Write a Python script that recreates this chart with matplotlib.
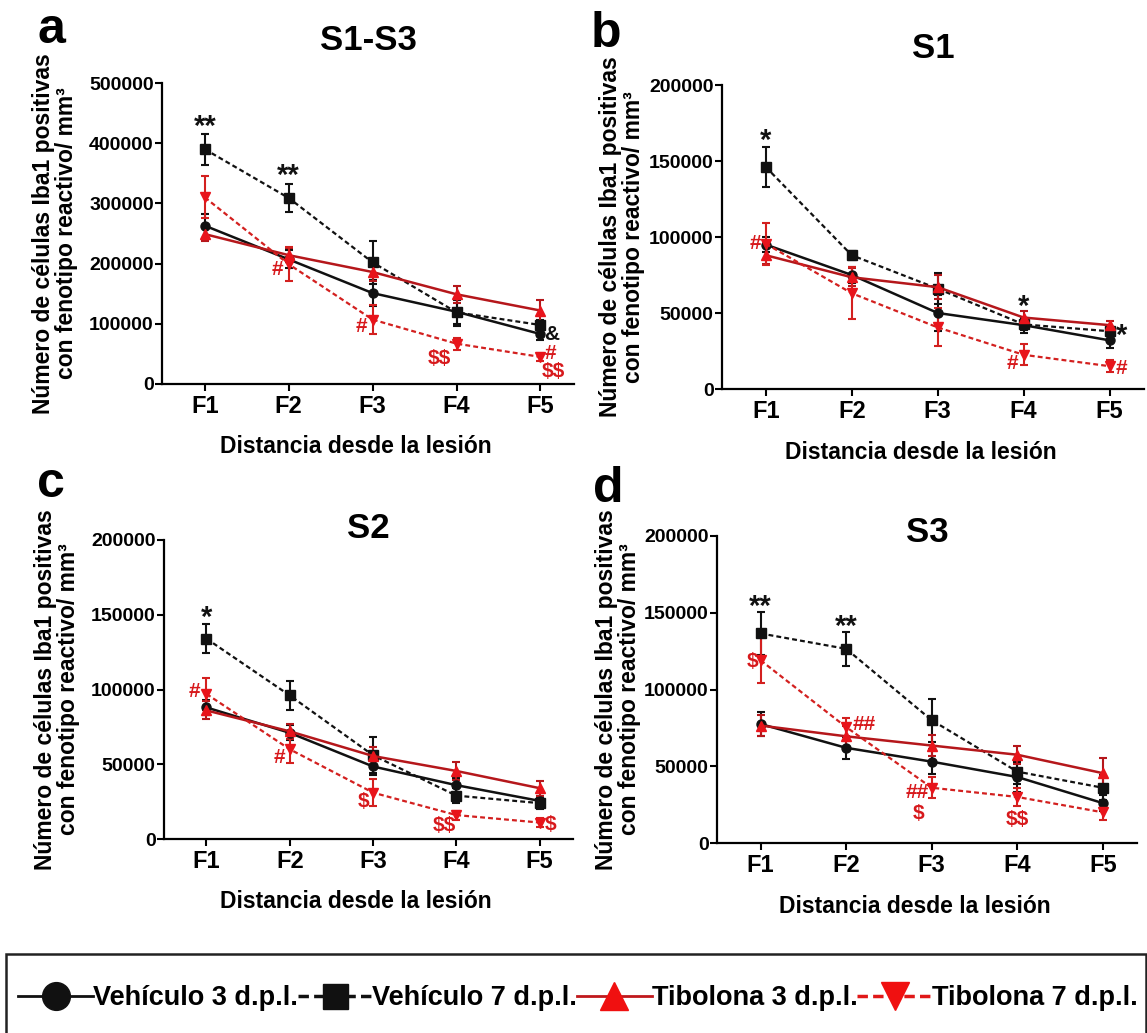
import matplotlib
matplotlib.use("Agg")
import matplotlib.pyplot as plt
from matplotlib import font_manager
from matplotlib.lines import Line2D
from matplotlib.patches import Rectangle
import numpy as np

plt.rcParams['font.family'] = ['Liberation Sans', 'DejaVu Sans']
plt.rcParams['font.weight'] = 'bold'
plt.rcParams['axes.labelweight'] = 'bold'

# the tick numbers of the original are set in a narrow face
instaladas = {f.name for f in font_manager.fontManager.ttflist}
if 'Liberation Sans Narrow' in instaladas:
    estrecha, tam_num, tam_sig = 'Liberation Sans Narrow', 16, 17
else:
    estrecha, tam_num, tam_sig = 'Liberation Sans', 14, 15

fracciones = ['F1', 'F2', 'F3', 'F4', 'F5']

# S1-S3
a_veh3 = [263000, 207000, 151000, 120000, 83000]
a_veh3_err = [20000, 15000, 22000, 20000, 10000]
a_veh7 = [390000, 309000, 202000, 119000, 98000]
a_veh7_err = [26000, 23000, 36000, 22000, 8000]
a_tib3 = [249000, 214000, 186000, 149000, 122000]
a_tib3_err = [12000, 12000, 15000, 14000, 17000]
a_tib7 = [310000, 199000, 107000, 67000, 45000]
a_tib7_err = [35000, 28000, 24000, 10000, 6000]

# S1
b_veh3 = [95000, 75000, 50000, 42000, 32000]
b_veh3_err = [5000, 5000, 12000, 5000, 5000]
b_veh7 = [146000, 88000, 66000, 42500, 38000]
b_veh7_err = [13000, 3000, 10000, 4000, 3000]
b_tib3 = [88000, 73500, 67000, 47000, 42000]
b_tib3_err = [6000, 6000, 8000, 4000, 3000]
b_tib7 = [95500, 63000, 40500, 22500, 15000]
b_tib7_err = [14000, 17000, 12500, 7000, 4000]

# S2
c_veh3 = [88000, 71000, 48500, 36000, 25500]
c_veh3_err = [5000, 5000, 6000, 5000, 3000]
c_veh7 = [134000, 96000, 56000, 29000, 24000]
c_veh7_err = [9500, 10000, 12000, 5000, 4000]
c_tib3 = [86000, 72000, 55500, 45500, 34000]
c_tib3_err = [6000, 5000, 6000, 6000, 5000]
c_tib7 = [97000, 60000, 31000, 16000, 11000]
c_tib7_err = [11000, 9000, 9000, 3000, 3000]

# S3
d_veh3 = [77500, 62000, 53000, 43000, 26000]
d_veh3_err = [8000, 7000, 8000, 10000, 5000]
d_veh7 = [136500, 126500, 80000, 46500, 36000]
d_veh7_err = [14000, 11000, 14000, 8000, 8000]
d_tib3 = [76500, 69500, 63500, 57500, 45500]
d_tib3_err = [7000, 7000, 7000, 6000, 10000]
d_tib7 = [119000, 75500, 36000, 30000, 20000]
d_tib7_err = [15000, 6000, 7000, 6000, 5000]

# marcas de significancia: (x, y, texto, color, ha)
negro, rojo = '#111111', '#d7191c'
annot_a = [(1, 427000, '**', negro, 'center'), (2, 346000, '**', negro, 'center'),
           (1.87, 190000, '#', rojo, 'center'), (2.87, 95000, '#', rojo, 'center'),
           (3.93, 43000, '$$', rojo, 'right'), (5.04, 82000, '&', negro, 'left'),
           (5.05, 50000, '#', rojo, 'left'), (5.15, 21000, '$$', rojo, 'center')]
annot_b = [(1, 163000, '*', negro, 'center'), (0.88, 96000, '#', rojo, 'center'),
           (4, 54000, '*', negro, 'center'), (5.07, 35000, '*', negro, 'left'),
           (3.87, 16500, '#', rojo, 'center'), (5.07, 13800, '#', rojo, 'left')]
annot_c = [(1, 148000, '*', negro, 'center'), (0.86, 98500, '#', rojo, 'center'),
           (1.88, 54500, '#', rojo, 'center'), (2.88, 25000, '$', rojo, 'center'),
           (3.86, 9000, '$$', rojo, 'center'), (5.06, 10000, '$', rojo, 'left')]
annot_d = [(1, 154000, '**', negro, 'center'), (2, 141000, '**', negro, 'center'),
           (0.9, 118500, '$', rojo, 'center'), (2.08, 77000, '##', rojo, 'left'),
           (2.97, 33000, '##', rojo, 'right'), (2.85, 19000, '$', rojo, 'center'),
           (4.0, 15500, '$$', rojo, 'center')]

W, H = 1147, 1033
fig = plt.figure(figsize=(W / 100, H / 100), dpi=100)


def ejes(l, r, t, b):
    return fig.add_axes([l / W, 1 - b / H, (r - l) / W, (b - t) / H])


estilos = [
    dict(color=negro, ls='-', marker='o', lw=1.8, mfc=negro),
    dict(color=negro, ls=(0, (2.2, 1.4)), marker='s', lw=1.6, mfc=negro),
    dict(color='#b5171b', ls='-', marker='^', lw=1.8, mfc='#e8141b'),
    dict(color='#d3201f', ls=(0, (2.2, 1.4)), marker='v', lw=1.6, mfc='#e8141b'),
]

paneles = [
    ('a', 'S1-S3', (162, 574, 83, 384), 500000, 100000,
     [(a_veh3, a_veh3_err), (a_veh7, a_veh7_err), (a_tib3, a_tib3_err), (a_tib7, a_tib7_err)],
     annot_a, 40, (51, 43), 8),
    ('b', 'S1', (722, 1144, 85, 389), 200000, 50000,
     [(b_veh3, b_veh3_err), (b_veh7, b_veh7_err), (b_tib3, b_tib3_err), (b_tib7, b_tib7_err)],
     annot_b, 48, (606, 47), 3),
    ('c', 'S2', (164, 573, 540, 839), 200000, 50000,
     [(c_veh3, c_veh3_err), (c_veh7, c_veh7_err), (c_tib3, c_tib3_err), (c_tib7, c_tib7_err)],
     annot_c, 528, (51, 497), 8),
    ('d', 'S3', (717, 1137, 536, 843), 200000, 50000,
     [(d_veh3, d_veh3_err), (d_veh7, d_veh7_err), (d_tib3, d_tib3_err), (d_tib7, d_tib7_err)],
     annot_d, 533, (608, 502), 2),
]

x = np.arange(1, 6)
for letra, titulo, caja, ymax, paso, series, marcas, ty, lpos, lpad in paneles:
    ax = ejes(*caja)
    for (vals, errs), st in zip(series, estilos):
        ax.errorbar(x, vals, yerr=errs, color=st['color'], ls=st['ls'], lw=st['lw'],
                    marker=st['marker'], ms=6.5, mfc=st['mfc'], mec=st['mfc'],
                    ecolor=st['color'], elinewidth=1.5, capsize=3, capthick=1.5)
    for mx, my, txt, col, ha in marcas:
        fs = 21 if col == negro and '*' in txt else tam_sig
        ax.text(mx, my, txt, color=col, ha=ha, va='center', fontsize=fs,
                fontweight='bold', family=[estrecha, 'DejaVu Sans'], parse_math=False)
    ax.set_xlim(0.49, 5.4)
    ax.set_ylim(0, ymax)
    ax.set_yticks(np.arange(0, ymax + 1, paso))
    ax.set_xticks(x)
    ax.set_xticklabels(fracciones)
    for etiqueta in ax.get_yticklabels():
        etiqueta.set_fontfamily([estrecha, 'DejaVu Sans'])
    for s in ['top', 'right']:
        ax.spines[s].set_visible(False)
    for s in ['left', 'bottom']:
        ax.spines[s].set_linewidth(1.6)
    ax.tick_params(axis='y', length=5, width=1.5, labelsize=tam_num, pad=1)
    ax.tick_params(axis='x', length=5, width=1.5, labelsize=17, pad=3)
    ax.set_ylabel('Número de células Iba1 positivas\ncon fenotipo reactivo/ mm³',
                  fontsize=16.5, labelpad=lpad, linespacing=1.0)
    ax.set_xlabel('Distancia desde la lesión', fontsize=16.5, labelpad=9)
    ax.xaxis.set_label_coords(0.47, -0.17)
    cx = (caja[0] + caja[1]) / 2
    fig.text(cx / W, 1 - ty / H, titulo, ha='center', va='center', fontsize=25, fontweight='bold')
    fig.text(lpos[0] / W, 1 - lpos[1] / H, letra, ha='center', va='baseline',
             fontsize=36, fontweight='bold')

# leyenda
mano = [
    Line2D([], [], color=negro, lw=2, marker='o', ms=20),
    Line2D([], [], color=negro, lw=2.5, ls=(0, (3, 1.5)), marker='s', ms=18),
    Line2D([], [], color='#c0181c', lw=2, marker='^', ms=20, mfc='#f01010', mec='#f01010'),
    Line2D([], [], color='#e01818', lw=2.5, ls=(0, (3, 1.5)), marker='v', ms=20,
           mfc='#f01010', mec='#f01010'),
]
nombres = ['Vehículo 3 d.p.l.', 'Vehículo 7 d.p.l.', 'Tibolona 3 d.p.l.', 'Tibolona 7 d.p.l.']
fig.legend(mano, nombres, loc='center', bbox_to_anchor=(578 / W, 1 - 998 / H), ncol=4,
           frameon=False, handlelength=2.75, handletextpad=0.0,
           columnspacing=0.0, prop={'weight': 'bold', 'size': 19.5})
fig.add_artist(Rectangle((6 / W, -0.03), 1140 / W, (1033 - 954) / H + 0.03,
                         transform=fig.transFigure, fill=False, lw=1.8, ec='#222222'))

fig.savefig('out.png', dpi=100)
